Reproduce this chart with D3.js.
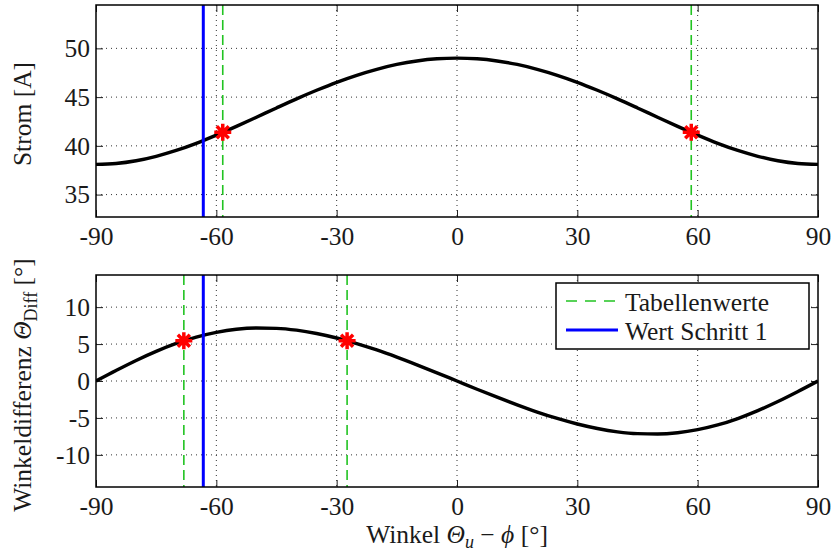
<!DOCTYPE html>
<html>
<head>
<meta charset="utf-8">
<script src="https://cdn.jsdelivr.net/npm/d3@7"></script>
<style>
  body { margin: 0; background: #fff; }
  text { font-family: "Liberation Serif", "Times New Roman", serif; fill: #1a1a1a; }
  .tick text { font-size: 25.5px; font-family: "Liberation Serif", serif; fill: #1a1a1a; }
  .grid line { stroke: #333; stroke-width: 1; stroke-dasharray: 1,4; }
</style>
</head>
<body>
<div id="chart"></div>
<script>
// Data
var winkel = [-90, -85, -80, -75, -70, -65, -60, -55, -50, -45, -40, -35, -30, -25, -20, -15, -10, -5,
  0, 5, 10, 15, 20, 25, 30, 35, 40, 45, 50, 55, 60, 65, 70, 75, 80, 85, 90]
var strom = [38.10, 38.19, 38.47, 38.93, 39.53, 40.26, 41.10, 42.00, 42.94, 43.89, 44.82, 45.70, 46.52, 47.24, 47.85, 48.35, 48.71, 48.93,
  49.00, 48.93, 48.71, 48.35, 47.85, 47.24, 46.52, 45.70, 44.82, 43.89, 42.94, 42.00, 41.10, 40.26, 39.53, 38.93, 38.47, 38.19, 38.10]
var winkelDiff = [0, 1.42, 2.78, 4.01, 5.08, 5.95, 6.59, 7.01, 7.18, 7.13, 6.88, 6.43, 5.82, 5.07, 4.20, 3.23, 2.19, 1.11,
  0, -1.11, -2.19, -3.23, -4.20, -5.07, -5.82, -6.43, -6.88, -7.13, -7.18, -7.01, -6.59, -5.95, -5.08, -4.01, -2.78, -1.42, 0]

var tabStromWinkel = [-58.4, 58.4]
var tabStromWert = [41.4, 41.4]
var tabDiffWinkel = [-68.1, -27.4]
var tabDiffWert = [5.45, 5.45]
var schritt1 = -63.25

var xTicks = [-90, -60, -30, 0, 30, 60, 90]
var yTicksStrom = [35, 40, 45, 50]
var yTicksDiff = [-10, -5, 0, 5, 10]
var legendLabels = ["Tabellenwerte", "Wert Schritt 1"]

var svgWidth = 834
var svgHeight = 553
var left = 96, right = 818

var green = "#22c322"
var blue = "#0000ff"

// MATLAB style asterisk: + and x on top of each other
var asterisk8 = {
  draw: function(context, size) {
    var r = Math.sqrt(size) / 2
    var d = r * Math.SQRT1_2
    context.moveTo(-r, 0); context.lineTo(r, 0)
    context.moveTo(0, -r); context.lineTo(0, r)
    context.moveTo(-d, -d); context.lineTo(d, d)
    context.moveTo(-d, d); context.lineTo(d, -d)
  }
}

var fmt = d => String(d)

var svg = d3.select("#chart")
  .append("svg")
  .attr("width", svgWidth)
  .attr("height", svgHeight)

var x = d3.scaleLinear().domain([-90, 90]).range([left, right])

function drawPanel(top, bottom, yDomain, yTicks, values, tabX, tabY, id) {
  var y = d3.scaleLinear().domain(yDomain).range([bottom, top])
  var g = svg.append("g")

  g.append("clipPath").attr("id", id)
    .append("rect")
    .attr("x", left).attr("y", top)
    .attr("width", right - left).attr("height", bottom - top)

  // grid
  var grid = g.append("g").attr("class", "grid")
  grid.selectAll(".gx").data(xTicks.slice(1, -1)).enter().append("line")
    .attr("x1", d => x(d)).attr("x2", d => x(d))
    .attr("y1", top).attr("y2", bottom)
  grid.selectAll(".gy").data(yTicks).enter().append("line")
    .attr("x1", left).attr("x2", right)
    .attr("y1", d => y(d)).attr("y2", d => y(d))

  // axes with inward ticks
  g.append("g")
    .attr("transform", `translate(0, ${bottom})`)
    .call(d3.axisBottom(x).tickValues(xTicks).tickFormat(fmt).tickSize(-7).tickSizeOuter(0).tickPadding(10))
  g.append("g")
    .attr("transform", `translate(0, ${top})`)
    .call(d3.axisTop(x).tickValues(xTicks).tickSize(-7).tickSizeOuter(0).tickFormat(""))
  g.append("g")
    .attr("transform", `translate(${left}, 0)`)
    .call(d3.axisLeft(y).tickValues(yTicks).tickFormat(fmt).tickSize(-7).tickSizeOuter(0).tickPadding(6))
  g.append("g")
    .attr("transform", `translate(${right}, 0)`)
    .call(d3.axisRight(y).tickValues(yTicks).tickSize(-7).tickSizeOuter(0).tickFormat(""))
  g.selectAll(".domain").remove()
  g.selectAll(".tick line").attr("stroke", "#222").attr("stroke-width", 1)

  var plot = g.append("g").attr("clip-path", `url(#${id})`)

  // curve
  var line = d3.line()
    .x((d, i) => x(winkel[i]))
    .y(d => y(d))
    .curve(d3.curveMonotoneX)
  plot.append("path")
    .datum(values)
    .attr("fill", "none")
    .attr("stroke", "#000")
    .attr("stroke-width", 3.4)
    .attr("d", line)

  // table values
  plot.selectAll(".tab").data(tabX).enter().append("line")
    .attr("x1", d => x(d)).attr("x2", d => x(d))
    .attr("y1", top).attr("y2", bottom)
    .attr("stroke", green)
    .attr("stroke-width", 1.6)
    .attr("stroke-dasharray", "10,5")

  // step 1 value
  plot.append("line")
    .attr("x1", x(schritt1)).attr("x2", x(schritt1))
    .attr("y1", top).attr("y2", bottom)
    .attr("stroke", blue)
    .attr("stroke-width", 3)

  // markers
  plot.selectAll(".mk").data(tabX).enter().append("path")
    .attr("transform", (d, i) => `translate(${x(d)}, ${y(tabY[i])})`)
    .attr("d", d3.symbol(asterisk8, 289))
    .attr("fill", "none")
    .attr("stroke", "#ff0000")
    .attr("stroke-width", 3.5)

  // frame
  g.append("rect")
    .attr("x", left).attr("y", top)
    .attr("width", right - left).attr("height", bottom - top)
    .attr("fill", "none")
    .attr("stroke", "#000")
    .attr("stroke-width", 1.5)

  return g
}

var top1 = drawPanel(5, 217, [32.7, 54.45], yTicksStrom, strom, tabStromWinkel, tabStromWert, "clip1")
var bottom1 = drawPanel(275, 487, [-14.35, 14.35], yTicksDiff, winkelDiff, tabDiffWinkel, tabDiffWert, "clip2")

// y labels
svg.append("text")
  .attr("transform", "translate(31, 114) rotate(-90)")
  .attr("text-anchor", "middle")
  .style("font-size", "25.5px")
  .text("Strom [A]")

var yl = svg.append("text")
  .attr("transform", "translate(31, 385) rotate(-90)")
  .attr("text-anchor", "middle")
  .style("font-size", "25.5px")
yl.append("tspan").text("Winkeldifferenz ")
yl.append("tspan").style("font-style", "italic").text("Θ")
yl.append("tspan").attr("dy", 6).style("font-size", "18px").text("Diff")
yl.append("tspan").attr("dy", -6).text(" [°]")

// x label
var xl = svg.append("text")
  .attr("x", 457).attr("y", 543)
  .attr("text-anchor", "middle")
  .style("font-size", "25.5px")
xl.append("tspan").text("Winkel ")
xl.append("tspan").style("font-style", "italic").text("Θ")
xl.append("tspan").attr("dy", 5).style("font-style", "italic").style("font-size", "18px").text("u")
xl.append("tspan").attr("dy", -5).text(" − ")
xl.append("tspan").style("font-style", "italic").text("ϕ")
xl.append("tspan").text(" [°]")

// legend
var legend = svg.append("g")
legend.append("rect")
  .attr("x", 556).attr("y", 283)
  .attr("width", 253).attr("height", 66)
  .attr("fill", "#fff")
  .attr("stroke", "#000")
  .attr("stroke-width", 1.5)
legendLabels.forEach(function(lbl, i) {
  var ly = 301 + i * 29
  legend.append("line")
    .attr("x1", 566).attr("x2", 618)
    .attr("y1", ly).attr("y2", ly)
    .attr("stroke", i === 0 ? green : blue)
    .attr("stroke-width", i === 0 ? 1.6 : 3)
    .attr("stroke-dasharray", i === 0 ? "11,8" : null)
  legend.append("text")
    .attr("x", 625).attr("y", ly + 10)
    .style("font-size", "25.5px")
    .text(lbl)
})
</script>
</body>
</html>
